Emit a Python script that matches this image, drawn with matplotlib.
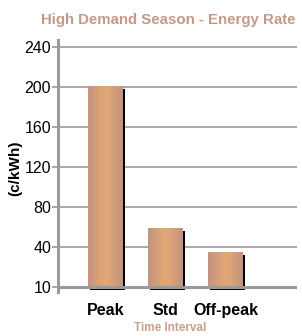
import matplotlib as mpl
import matplotlib.pyplot as plt
import numpy as np
from matplotlib.colors import to_rgb

mpl.rcParams.update({
    "font.family": "sans-serif",
    "font.sans-serif": ["Liberation Sans", "DejaVu Sans"],
})

categories = ["Peak", "Std", "Off-peak"]
rates = [201, 59, 35]
tick_values = [0, 40, 80, 120, 160, 200, 240]
tick_labels = ["10", "40", "80", "120", "160", "200", "240"]

GRID = "#a3a3a3"
SPINE = "#9a9a9a"
TITLE = "#c59888"
BAR_EDGE = np.array(to_rgb("#c4937f"))
BAR_MID = np.array(to_rgb("#dea676"))

fig = plt.figure(figsize=(3.02, 3.36), dpi=100)
ax = fig.add_axes([0.192, 0.131, 0.792, 0.75])

x = np.arange(len(categories))
w = 0.58
# drop shadow
ax.bar(x + 0.035, rates, width=w, bottom=-3, color="black", zorder=2)
# horizontal gradient: stack narrower bars, lighter toward the centre
steps = 12
for i in range(steps):
    t = i / (steps - 1)
    col = BAR_EDGE + (BAR_MID - BAR_EDGE) * t
    ax.bar(x, rates, width=w * (1 - 0.8 * t), color=col, zorder=3, linewidth=0)

ax.set_xlim(-0.79, 3.19)
ax.set_ylim(-5, 247)
ax.set_yticks(tick_values)
ax.set_yticklabels(tick_labels)
ax.set_xticks(x)
ax.set_xticklabels(categories, fontweight="bold")

for v in tick_values[1:]:
    ax.axhline(v, color=GRID, lw=1.3, zorder=1)
ax.axhline(0, color=SPINE, lw=2.2, zorder=4)

for s in ("top", "right", "bottom"):
    ax.spines[s].set_visible(False)
ax.spines["left"].set_color(SPINE)
ax.spines["left"].set_linewidth(2.2)
ax.tick_params(axis="y", length=4, width=1.2, color=SPINE, labelsize=11.5, pad=1)
ax.tick_params(axis="x", length=0, labelsize=11.5, pad=8)

fig.text(0.556, 0.94, "High Demand Season - Energy Rate", ha="center", va="center",
         fontsize=10.8, fontweight="bold", color=TITLE)
fig.text(0.05, 0.50, "(c/kWh)", ha="center", va="center", rotation=90,
         fontsize=11, fontweight="bold")
fig.text(0.563, 0.025, "Time Interval", ha="center", va="center",
         fontsize=8.5, fontweight="bold", color="#c9a08e")

fig.savefig("out.png", dpi=100)
